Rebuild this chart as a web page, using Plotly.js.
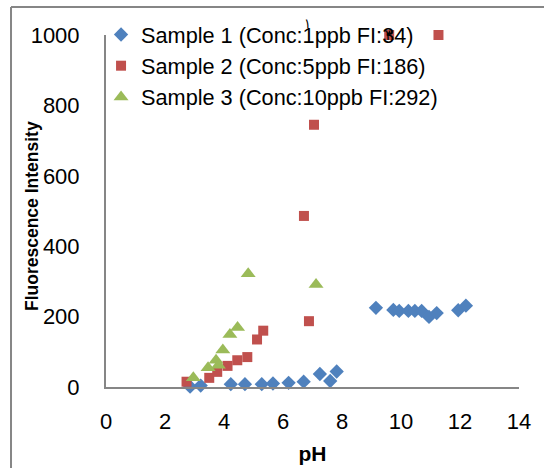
<!DOCTYPE html>
<html>
<head>
<meta charset="utf-8">
<script src="https://cdn.plot.ly/plotly-3.0.1.min.js"></script>
<style>html,body{margin:0;padding:0;background:#fff;}#chart{width:544px;height:468px;}</style>
</head>
<body>
<div id="chart"></div>
<script>
// Sample 1 (blue diamonds)
const s1Name = "Sample 1 (Conc:1ppb FI:34)";
const s1pH = [2.85, 3.21, 4.23, 4.71, 5.28, 5.66, 6.19, 6.70, 7.25, 7.60, 7.82, 9.15, 9.74, 9.94, 10.25, 10.47, 10.70, 10.95, 11.21, 11.94, 12.20];
const s1FI = [1, 4, 8, 8, 8, 10, 12, 15, 37, 17, 44, 225, 219, 216, 216, 216, 216, 199, 210, 218, 231];

// Sample 2 (red squares)
const s2Name = "Sample 2 (Conc:5ppb FI:186)";
const s2pH = [2.73, 3.50, 3.77, 4.12, 4.45, 4.79, 5.12, 5.33, 6.71, 6.88, 7.05, 9.60, 11.27];
const s2FI = [15, 26, 43, 60, 76, 85, 135, 160, 486, 187, 745, 1000, 1000];

// Sample 3 (green triangles)
const s3Name = "Sample 3 (Conc:10ppb FI:292)";
const s3pH = [2.96, 3.46, 3.73, 3.81, 3.96, 4.20, 4.46, 4.82, 7.12];
const s3FI = [26, 55, 76, 62, 105, 149, 169, 322, 291];

const xTicks = [0, 2, 4, 6, 8, 10, 12, 14];
const yTicks = [0, 200, 400, 600, 800, 1000];

const FONT = "Liberation Sans, Arial, sans-serif";
const AXIS = "#868686";

const traces = [
  {x: s1pH, y: s1FI, name: s1Name, legendgroup: "a", type: "scatter", mode: "markers", cliponaxis: false,
   marker: {symbol: "diamond", size: 11, color: "#4F81BD"}},
  {x: s2pH, y: s2FI, name: s2Name, legendgroup: "b", type: "scatter", mode: "markers", cliponaxis: false,
   marker: {symbol: "square", size: 10, color: "#C0504D"}},
  {x: s3pH, y: s3FI, name: s3Name, legendgroup: "c", type: "scatter", mode: "markers", cliponaxis: false,
   marker: {symbol: "triangle-up", size: 13, color: "#9BBB59"}}
];

const layout = {
  width: 544, height: 468,
  margin: {l: 106, r: 25, t: 35, b: 81},
  paper_bgcolor: "#fff", plot_bgcolor: "#fff",
  font: {family: FONT, size: 22, color: "#000"},
  showlegend: true,
  legend: {x: -0.012, y: 1.06, xanchor: "left", yanchor: "top",
           bgcolor: "rgba(0,0,0,0)", font: {family: FONT, size: 21.7, color: "#000"},
           tracegroupgap: 0, itemwidth: 30},
  xaxis: {range: [0, 14], tickvals: xTicks, ticktext: xTicks.map(String),
          showgrid: false, zeroline: false, showline: true, linecolor: AXIS, linewidth: 2,
          ticks: "", ticklabelstandoff: 14, tickfont: {family: FONT, size: 22},
          title: {text: "<b>pH</b>", font: {family: FONT, size: 21}, standoff: 13}},
  yaxis: {range: [0, 1000], tickvals: yTicks, ticktext: yTicks.map(String),
          showgrid: false, zeroline: false, showline: true, linecolor: AXIS, linewidth: 2,
          ticks: "", ticklabelstandoff: 20, tickfont: {family: FONT, size: 22}},
  shapes: [
    {type: "line", xref: "paper", yref: "paper", x0: -0.230, x1: 1.1, y0: 1.0795, y1: 1.0795,
     line: {color: AXIS, width: 2}},
    {type: "line", xref: "paper", yref: "paper", x0: -0.230, x1: -0.230, y0: 1.0795, y1: -0.3,
     line: {color: AXIS, width: 2}}
  ],
  annotations: [
    {text: "<b>Fluorescence Intensity</b>", xref: "paper", yref: "paper", x: -0.179, y: 0.486,
     xanchor: "center", yanchor: "middle",
     textangle: -90, showarrow: false, font: {family: FONT, size: 17.5, color: "#000"}},
    {text: "١", xref: "paper", yref: "paper", x: 0.487, y: 1.032, showarrow: false,
     xanchor: "center", yanchor: "middle",
     font: {family: "DejaVu Sans", size: 13, color: "#000"}},
    {text: "٣", xref: "paper", yref: "paper", x: 0.686, y: 1.0, showarrow: false,
     xanchor: "center", yanchor: "middle",
     font: {family: "DejaVu Sans", size: 15, color: "#000"}}
  ]
};

Plotly.newPlot("chart", traces, layout, {displayModeBar: false, staticPlot: true});
</script>
</body>
</html>
